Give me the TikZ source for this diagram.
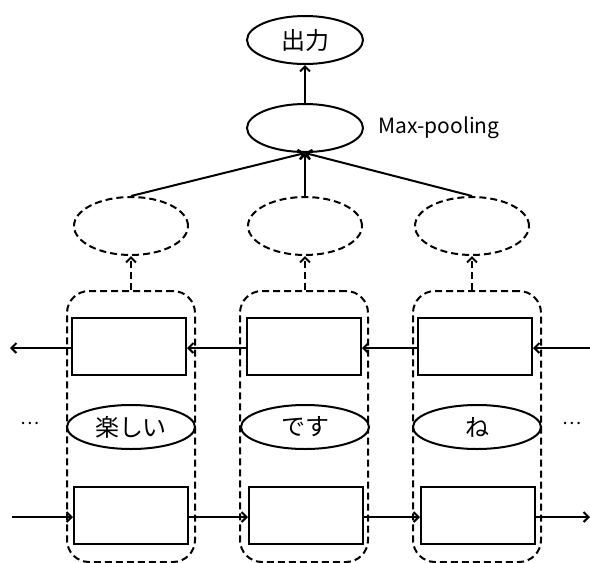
\documentclass[tikz,border=0pt]{standalone}
\usepackage{fontspec}
\setmainfont{Noto Sans CJK JP}
\usetikzlibrary{arrows.meta,shapes.geometric}

\begin{document}
\begin{tikzpicture}[x=1pt,y=-1pt,line width=2pt,
    >={Straight Barb[length=5pt,width=10pt]},
    dsh/.style={dash pattern=on 7pt off 4pt},
    outnode/.style={ellipse,draw,minimum width=116pt,minimum height=48pt,inner sep=0pt,font=\fontsize{24}{28}\selectfont},
    hidnode/.style={ellipse,draw,dsh,minimum width=114pt,minimum height=58pt,inner sep=0pt},
    wordnode/.style={ellipse,draw,fill=white,minimum width=128pt,minimum height=44pt,inner sep=0pt,font=\fontsize{24}{28}\selectfont},
    colbox/.style={rectangle,draw,dsh,rounded corners=22pt,minimum width=128pt,minimum height=271pt,inner sep=0pt},
    cell/.style={rectangle,draw,fill=white,minimum width=114pt,minimum height=57pt,inner sep=0pt}]
  \useasboundingbox (0,0) rectangle (590,563);

  % columns, one per word
  \node[colbox] (col1) at (131,426.5) {};
  \node[colbox] (col2) at (304,426.5) {};
  \node[colbox] (col3) at (477,426.5) {};

  % backward cells
  \node[cell] (b1) at (129,346) {};
  \node[cell] (b2) at (304,346) {};
  \node[cell] (b3) at (475,346) {};

  % forward cells
  \node[cell] (f1) at (131,515) {};
  \node[cell] (f2) at (306,515) {};
  \node[cell] (f3) at (478,515) {};

  % words
  \node[wordnode] (w1) at (131,427) {楽しい};
  \node[wordnode] (w2) at (305,427) {です};
  \node[wordnode] (w3) at (477,427) {ね};
  \node[font=\fontsize{18}{20}\selectfont] (dl) at (30,423) {…};
  \node[font=\fontsize{18}{20}\selectfont] (dr) at (572,423) {…};

  % hidden states, pooling and output
  \node[hidnode] (h1) at (131,226) {};
  \node[hidnode] (h2) at (305,226) {};
  \node[hidnode] (h3) at (472,226) {};
  \node[outnode] (pool) at (305,128) {};
  \node[font=\fontsize{21}{24}\selectfont,anchor=west] (poollbl) at (374,128) {Max-pooling};
  \node[outnode] (out) at (305,40) {出力};

  % edge coordinates
  \coordinate (bin) at (590,348);
  \coordinate (bout) at (10,348);
  \coordinate (fin) at (12,517);
  \coordinate (fout) at (590,517);

  % backward direction
  \draw[->] (bin) -- (b3.east |- bin);
  \draw[->] (b3.west |- bin) -- (b2.east |- bin);
  \draw[->] (b2.west |- bin) -- (b1.east |- bin);
  \draw[->] (b1.west |- bin) -- (bout);

  % forward direction
  \draw[->] (fin) -- (f1.west |- fin);
  \draw[->] (f1.east |- fin) -- (f2.west |- fin);
  \draw[->] (f2.east |- fin) -- (f3.west |- fin);
  \draw[->] (f3.east |- fin) -- (fout);

  % up to the hidden states
  \draw[->,dsh] (h1.south |- col1.north) -- (h1.south);
  \draw[->,dsh] (h2.south |- col2.north) -- (h2.south);
  \draw[->,dsh] (h3.south |- col3.north) -- (h3.south);

  \draw[->] (h1.north) -- (pool.south);
  \draw[->] (h2.north) -- (pool.south);
  \draw[->] (h3.north) -- (pool.south);
  \draw[->] (pool.north) -- (out.south);
\end{tikzpicture}
\end{document}
